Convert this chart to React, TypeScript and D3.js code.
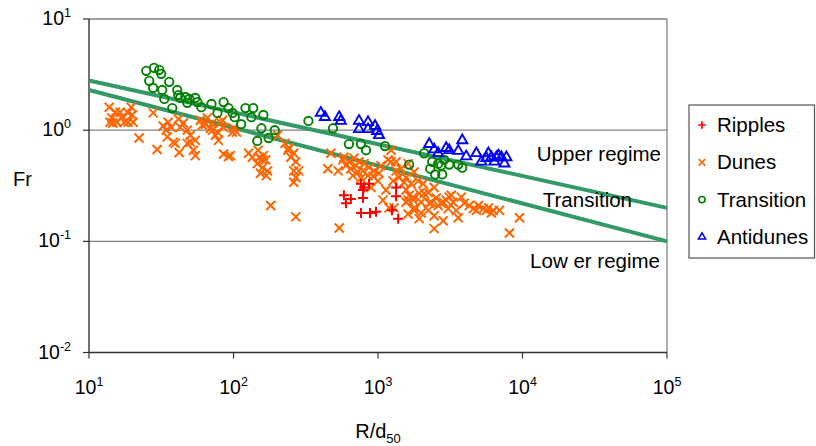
import React from "react";
import * as d3 from "d3";

const xTicks = [10, 100, 1000, 10000, 100000];
const yTicks = [0.01, 0.1, 1, 10];
const xTickExp = ["1", "2", "3", "4", "5"];
const yTickExp = ["-2", "-1", "0", "1"];
const gridValues = [0.1, 1, 10];

const upperLine: [number, number][] = [[10, 2.8], [100000, 0.2]];
const lowerLine: [number, number][] = [[10, 2.3], [100000, 0.1]];

const ripples: [number, number][] = [
  [762, 0.33], [800, 0.305], [867, 0.33], [581, 0.26], [649, 0.24], [600, 0.22],
  [787, 0.245], [762, 0.18], [880, 0.18], [969, 0.185], [1334, 0.305], [1334, 0.255],
  [1250, 0.19], [1378, 0.16], [787, 0.29],
];

const dunes: [number, number][] = [
  [13.8, 1.61], [15.2, 1.45], [14.4, 1.29], [15.6, 1.18], [14.6, 1.16], [16.9, 1.31],
  [17.5, 1.18], [18.6, 1.43], [19.6, 1.61], [19.9, 1.37], [18.6, 1.18], [20.2, 1.18],
  [22.2, 0.85], [14.0, 1.18], [16.4, 1.45],
  [27.8, 1.43], [29.6, 0.67], [32.6, 1.09], [34.2, 1.0], [34.8, 0.87], [37.1, 1.06],
  [38.3, 0.78], [41.5, 1.26], [42.8, 1.06], [45.0, 1.16], [42.1, 0.63], [47.9, 0.76],
  [50.3, 0.9], [52.8, 0.66], [54.4, 0.81], [59.0, 1.23], [63.9, 1.13], [66.0, 1.29],
  [69.2, 1.04], [71.5, 1.16], [75.0, 0.9], [77.4, 0.96], [81.3, 1.18], [85.4, 1.06],
  [78.7, 0.81], [85.4, 0.61], [92.3, 0.58], [100, 1.04], [105, 0.96], [54.4, 0.59],
  [39.5, 0.76], [35.3, 1.18], [47.9, 1.0], [71.5, 1.0], [84.0, 1.23], [60.9, 1.11],
  [50.3, 0.78],
  [127, 0.62], [135, 0.57], [146, 0.5], [151, 0.57], [161, 0.59], [167, 0.54],
  [159, 0.46], [172, 0.43], [154, 0.41], [169, 0.39], [148, 0.66], [159, 0.54],
  [181, 0.21], [98.5, 0.96], [95.3, 0.59],
  [202, 0.9], [227, 0.76], [242, 0.69], [261, 0.62], [270, 0.52], [261, 0.43],
  [270, 0.375], [261, 0.34], [249, 0.57], [238, 0.66], [283, 0.43], [270, 0.166],
  [472, 0.62], [450, 0.45], [530, 0.43], [539, 0.132], [571, 0.54],
  [581, 0.57], [629, 0.52], [681, 0.56], [739, 0.52], [800, 0.5], [867, 0.46],
  [939, 0.43], [1016, 0.41], [649, 0.45], [727, 0.42], [853, 0.39], [1000, 0.35],
  [894, 0.305], [600, 0.48], [703, 0.48], [787, 0.43], [923, 0.385], [670, 0.39],
  [762, 0.37], [1049, 0.48],
  [1136, 0.29], [1082, 0.235], [1192, 0.2], [1231, 0.52], [1231, 0.66], [1334, 0.43],
  [1400, 0.375], [1515, 0.34], [1565, 0.29], [1643, 0.26], [1750, 0.235], [1778, 0.2],
  [1173, 0.54], [1334, 0.52], [1292, 0.2], [1616, 0.235], [1271, 0.35], [1444, 0.45],
  [1616, 0.5], [1778, 0.42], [1565, 0.375], [1694, 0.33], [1897, 0.35], [2053, 0.33],
  [2226, 0.275], [1928, 0.27], [1750, 0.25], [1565, 0.225], [1988, 0.225], [1778, 0.19],
  [2333, 0.225], [2608, 0.21], [2826, 0.225], [3110, 0.25], [3317, 0.225], [3060, 0.197],
  [3480, 0.19], [3592, 0.163], [2826, 0.153], [2448, 0.13], [1988, 0.18], [2448, 0.305],
  [2527, 0.245], [2738, 0.22], [2964, 0.235], [1928, 0.16], [2448, 0.17], [2086, 0.27],
  [2262, 0.22], [3213, 0.26], [3770, 0.25], [1616, 0.176], [2226, 0.19],
  [3954, 0.22], [4283, 0.21], [4569, 0.197], [4950, 0.21], [5360, 0.197], [5807, 0.2],
  [6290, 0.19], [6923, 0.19], [9530, 0.163], [8122, 0.119], [4794, 0.19], [5625, 0.19],
  [6092, 0.18],
];

const transition: [number, number][] = [
  [24.9, 3.42], [26.1, 2.78], [28.2, 3.64], [30.6, 3.49], [31.6, 3.21], [27.8, 2.4],
  [32.1, 2.3], [33.2, 1.91], [35.9, 2.72], [37.7, 1.58], [40.8, 2.3], [41.5, 2.07],
  [42.8, 1.95], [46.4, 1.99], [47.9, 1.76], [49.5, 1.91], [54.4, 1.95], [56.3, 1.79],
  [59.9, 1.61], [70.4, 1.72], [77.4, 1.43], [85.4, 1.79], [92.3, 1.58], [98.5, 1.43],
  [102, 1.31], [113, 1.13], [121, 1.58], [133, 1.31], [137, 1.58], [161, 1.37],
  [156, 1.04], [146, 0.8], [175, 0.85], [193, 1.0],
  [330, 1.21], [488, 1.04], [629, 0.75], [762, 0.75], [826, 0.66], [1118, 0.72],
  [1643, 0.49], [2086, 0.62], [2371, 0.52], [2298, 0.45], [2487, 0.4], [2782, 0.4],
  [2738, 0.48], [3110, 0.49], [3592, 0.49], [3830, 0.46], [2871, 0.54], [2608, 0.5],
];

const antidunes: [number, number][] = [
  [402, 1.43], [429, 1.31], [539, 1.31], [553, 1.21], [739, 1.21], [739, 1.02],
  [853, 1.18], [853, 1.02], [954, 1.09], [985, 0.98], [1016, 0.9],
  [2262, 0.75], [2448, 0.67], [2608, 0.62], [2964, 0.69], [3110, 0.66], [3592, 0.65],
  [3830, 0.81], [4082, 0.58], [4794, 0.62], [5191, 0.52], [5807, 0.62], [6092, 0.57],
  [6600, 0.57], [7148, 0.57], [7740, 0.57], [6391, 0.52], [5625, 0.56], [7500, 0.5],
  [6813, 0.59],
];

const legendItems = ["Ripples", "Dunes", "Transition", "Antidunes"];
const legendColors = ["#FF0000", "#FF6600", "#008000", "#0000FF"];

const FONT = "'Liberation Sans', Arial, sans-serif";

const W = 816;
const H = 446;
const left = 89;
const right = 667;
const top = 19;
const bottom = 352.5;

function plusPath(cx: number, cy: number, s: number) {
  return `M${cx - s},${cy}H${cx + s}M${cx},${cy - s}V${cy + s}`;
}
function crossPath(cx: number, cy: number, s: number) {
  return `M${cx - s},${cy - s}L${cx + s},${cy + s}M${cx - s},${cy + s}L${cx + s},${cy - s}`;
}

export default function App() {
  const x = d3.scaleLog().domain([10, 100000]).range([left, right]);
  const y = d3.scaleLog().domain([0.01, 10]).range([bottom, top]);
  const line = d3
    .line<[number, number]>()
    .x((d) => x(d[0]))
    .y((d) => y(d[1]));
  const tri = d3.symbol(d3.symbolTriangle, 44)() as string;
  const triSmall = d3.symbol(d3.symbolTriangle, 22)() as string;

  const legendTop = 125;
  const legendStep = 37.3;

  return (
    <svg
      width={W}
      height={H}
      style={{ position: "absolute", left: 0, top: 0, display: "block", background: "#fff" }}
      fontFamily={FONT}
    >
      <rect x={0} y={0} width={W} height={H} fill="#fff" />
      {gridValues.map((v) => (
        <line key={v} x1={left} x2={right} y1={y(v)} y2={y(v)} stroke="#808080" strokeWidth={1.3} />
      ))}
      <line x1={right} x2={right} y1={top} y2={bottom} stroke="#808080" strokeWidth={1.3} />
      <line x1={left} x2={left} y1={top} y2={bottom} stroke="#333" strokeWidth={1.4} />
      <line x1={left} x2={right} y1={bottom} y2={bottom} stroke="#333" strokeWidth={1.4} />
      {yTicks.map((v) => (
        <line key={v} x1={left - 6} x2={left} y1={y(v)} y2={y(v)} stroke="#333" strokeWidth={1.2} />
      ))}
      {xTicks.map((v) => (
        <line key={v} x1={x(v)} x2={x(v)} y1={bottom} y2={bottom + 6} stroke="#333" strokeWidth={1.2} />
      ))}
      {yTicks.map((v, i) => (
        <text key={v} x={71} y={y(v) + 6} textAnchor="end" fontSize={19.5} fill="#000">
          10<tspan dy={-8} fontSize={12.5}>{yTickExp[i]}</tspan>
        </text>
      ))}
      {xTicks.map((v, i) => (
        <text key={v} x={x(v)} y={394} textAnchor="middle" fontSize={19.5} fill="#000">
          10<tspan dy={-8.5} fontSize={12.5}>{xTickExp[i]}</tspan>
        </text>
      ))}
      <text x={13} y={186} fontSize={20} fill="#000">Fr</text>
      <text x={378} y={438} textAnchor="middle" fontSize={20} fill="#000">
        R/d<tspan dy={5} fontSize={13}>50</tspan>
      </text>

      <path d={line(upperLine) as string} stroke="#339966" strokeWidth={4} fill="none" />
      <path d={line(lowerLine) as string} stroke="#339966" strokeWidth={4} fill="none" />

      {dunes.map((d, i) => (
        <path key={"d" + i} d={crossPath(x(d[0]), y(d[1]), 4.5)} stroke="#FF6600" strokeWidth={2} fill="none" />
      ))}
      {ripples.map((d, i) => (
        <path key={"r" + i} d={plusPath(x(d[0]), y(d[1]), 5)} stroke="#FF0000" strokeWidth={2} fill="none" />
      ))}
      {transition.map((d, i) => (
        <circle key={"t" + i} cx={x(d[0])} cy={y(d[1])} r={4.2} stroke="#008000" strokeWidth={1.9} fill="none" />
      ))}
      {antidunes.map((d, i) => (
        <path
          key={"a" + i}
          d={tri}
          transform={`translate(${x(d[0])},${y(d[1])})`}
          stroke="#0000FF"
          strokeWidth={1.9}
          fill="none"
        />
      ))}

      <text x={661} y={161} textAnchor="end" fontSize={20.5} fill="#000">Upper regime</text>
      <text x={632} y={207} textAnchor="end" fontSize={20.5} fill="#000">Transition</text>
      <text x={660} y={268} textAnchor="end" fontSize={20.5} fill="#000">Low er regime</text>

      <rect x={689} y={105} width={125.5} height={153} fill="#fff" stroke="#555" strokeWidth={1.2} />
      {legendItems.map((name, i) => {
        const cy = legendTop + i * legendStep;
        const cx = 702;
        const c = legendColors[i];
        let marker: React.ReactNode = null;
        if (i === 0) marker = <path d={plusPath(cx, cy, 3.8)} stroke={c} strokeWidth={1.7} fill="none" />;
        if (i === 1) marker = <path d={crossPath(cx, cy, 3.3)} stroke={c} strokeWidth={1.7} fill="none" />;
        if (i === 2) marker = <circle cx={cx} cy={cy} r={3.1} stroke={c} strokeWidth={1.6} fill="none" />;
        if (i === 3)
          marker = (
            <path d={triSmall} transform={`translate(${cx},${cy})`} stroke={c} strokeWidth={1.6} fill="none" />
          );
        return (
          <g key={name}>
            {marker}
            <text x={717} y={cy + 7} fontSize={20.5} fill="#000">{name}</text>
          </g>
        );
      })}
    </svg>
  );
}
